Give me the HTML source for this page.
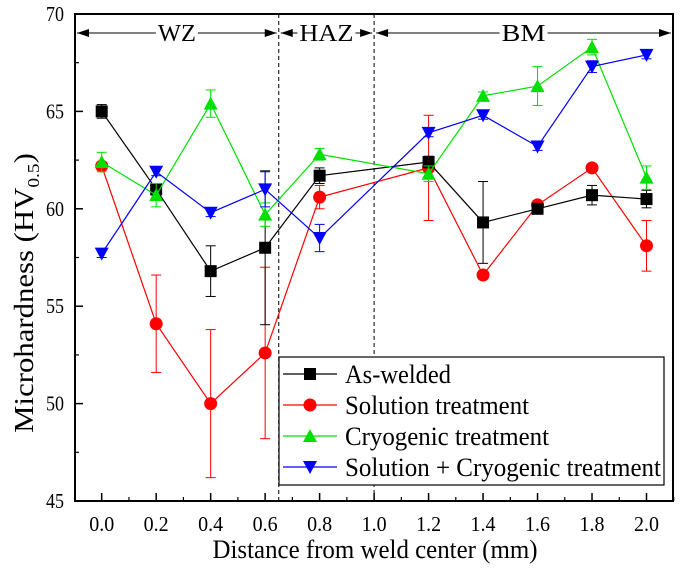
<!DOCTYPE html>
<html><head><meta charset="utf-8"><style>
body{margin:0;background:#fff}
svg{display:block;font-family:"Liberation Serif",serif}
</style></head><body>
<svg id="c" width="681" height="569"></svg>
<script>
const xs=[0,0.2,0.4,0.6,0.8,1.2,1.4,1.6,1.8,2.0];
const asWelded=[65.0,61.0,56.8,58.0,61.7,62.4,59.3,60.0,60.7,60.5];
const asWeldedErr=[0.35,0.3,1.3,3.95,0.4,0.3,2.1,0.2,0.5,0.45];
const solution=[62.2,54.1,50.0,52.6,60.6,62.1,56.6,60.2,62.1,58.1];
const solutionErr=[0.2,2.5,3.8,4.4,0.6,2.7,0.2,0.2,0.2,1.3];
const cryo=[62.4,60.7,65.4,59.7,62.8,61.8,65.8,66.3,68.3,61.6];
const cryoErr=[0.5,0.6,0.7,0.6,0.3,0.4,0.2,1.0,0.4,0.6];
const solCryo=[57.7,61.9,59.8,61.0,58.5,63.9,64.8,63.2,67.3,67.9];
const solCryoErr=[0.2,0.2,0.2,0.9,0.7,0.2,0.2,0.2,0.3,0.2];
const xTicks=["0.0","0.2","0.4","0.6","0.8","1.0","1.2","1.4","1.6","1.8","2.0"];
const yTicks=[45,50,55,60,65,70];

const NS="http://www.w3.org/2000/svg";
const svg=document.getElementById('c');
const L=75,R=673,T=14,B=501;
const X=v=>101.7+v*272.4;
const Y=v=>B-(v-45)*(B-T)/25;
function el(t,a,p){const e=document.createElementNS(NS,t);for(const k in a)e.setAttribute(k,a[k]);(p||svg).appendChild(e);return e;}
function txt(a,s,len,p){const e=el('text',Object.assign({lengthAdjust:'spacingAndGlyphs',textLength:len},a),p);e.textContent=s;return e;}

const fr=el('rect',{x:L,y:T,width:R-L,height:B-T,fill:'none',stroke:'#000','stroke-width':2});


xTicks.forEach(t=>{const v=parseFloat(t);const x=X(v);
 el('line',{x1:x,x2:x,y1:B,y2:B-8,stroke:'#000','stroke-width':1.5});
 const tx=txt({x:x,y:B+30,'text-anchor':'middle','font-size':21},t,25);
 
 
});
for(let i=0;i<11;i++){const x=X(i*0.2-0.1);if(x>L)el('line',{x1:x,x2:x,y1:B,y2:B-4,stroke:'#000','stroke-width':1.2});}
el('line',{x1:X(2.1),x2:X(2.1),y1:B,y2:B-4,stroke:'#000','stroke-width':1.2});
yTicks.forEach(v=>{const y=Y(v);
 el('line',{x1:L,x2:L+8,y1:y,y2:y,stroke:'#000','stroke-width':1.5});
 const tx=txt({x:L-11,y:y+7,'text-anchor':'end','font-size':21},String(v),18);
 
 
 if(v<70)el('line',{x1:L,x2:L+4,y1:Y(v+2.5),y2:Y(v+2.5),stroke:'#000','stroke-width':1.2});
});
const xt=txt({x:375,y:558,'text-anchor':'middle','font-size':26},'Distance from weld center (mm)',325);


const yt=el('text',{transform:'translate(33,293) rotate(-90) scale(1.14,1)','text-anchor':'middle','font-size':27});
yt.innerHTML='Microhardness (HV<tspan font-size="17" dy="6">0.5</tspan><tspan dy="-6">)</tspan>';


[0.65,1.0].forEach(v=>{const d=el('line',{x1:X(v),x2:X(v),y1:T,y2:B,stroke:'#000','stroke-width':1,'stroke-dasharray':'4,3'});
 
 });
function zone(x1,x2,lab,w,name){const g=el('g',{});
 
 
 const y=33,m=(x1+x2)/2,hw=w/2+2;
 el('line',{x1:x1+2,x2:m-hw,y1:y,y2:y,stroke:'#000','stroke-width':1},g);
 el('line',{x1:m+hw,x2:x2-2,y1:y,y2:y,stroke:'#000','stroke-width':1},g);
 el('polygon',{points:`${x1+2},${y} ${x1+14},${y-4} ${x1+14},${y+4}`,fill:'#000'},g);
 el('polygon',{points:`${x2-2},${y} ${x2-14},${y-4} ${x2-14},${y+4}`,fill:'#000'},g);
 txt({x:m,y:y+8,'text-anchor':'middle','font-size':24},lab,w,g);}
zone(L,X(0.65),'WZ',38,'wz-label');zone(X(0.65),X(1.0),'HAZ',54,'haz-label');zone(X(1.0),R,'BM',44,'bm-label');

function marker(g,type,x,y,c){
 if(type==='sq')el('rect',{x:x-6,y:y-6,width:12,height:12,fill:c},g);
 else if(type==='ci')el('circle',{cx:x,cy:y,r:6.5,fill:c},g);
 else if(type==='up')el('polygon',{points:`${x},${y-7} ${x-7},${y+6} ${x+7},${y+6}`,fill:c},g);
 else el('polygon',{points:`${x},${y+7} ${x-7},${y-6} ${x+7},${y-6}`,fill:c},g);}
function series(vals,errs,c,type,name){const g=el('g',{});
 
 
 el('polyline',{points:xs.map((v,i)=>X(v)+','+Y(vals[i])).join(' '),fill:'none',stroke:c,'stroke-width':1.2},g);
 xs.forEach((v,i)=>{const x=X(v),y1=Y(vals[i]+errs[i]),y2=Y(vals[i]-errs[i]);
  el('line',{x1:x,x2:x,y1:y1,y2:y2,stroke:c,'stroke-width':1},g);
  el('line',{x1:x-5,x2:x+5,y1:y1,y2:y1,stroke:c,'stroke-width':1},g);
  el('line',{x1:x-5,x2:x+5,y1:y2,y2:y2,stroke:c,'stroke-width':1},g);});
 xs.forEach((v,i)=>{const m=el('g',{},g);
  
  
  marker(m,type,X(v),Y(vals[i]),c);});}
series(solution,solutionErr,'#ff0000','ci','series-solution');
series(asWelded,asWeldedErr,'#000000','sq','series-as-welded');
series(cryo,cryoErr,'#00e000','up','series-cryogenic');
series(solCryo,solCryoErr,'#0000ff','dn','series-solution-cryogenic');

const lg=el('g',{});


el('rect',{x:279,y:357,width:385,height:128,fill:'#fff',stroke:'#000','stroke-width':1.2},lg);
[['As-welded','#000','sq',106],['Solution treatment','#ff0000','ci',184],['Cryogenic treatment','#00e000','up',204],['Solution + Cryogenic treatment','#0000ff','dn',316]].forEach((e,i)=>{
 const y=374+i*31;const g=el('g',{},lg);
 
 
 el('line',{x1:283,x2:337,y1:y,y2:y,stroke:e[1],'stroke-width':1.2},g);
 marker(g,e[2],310,y,e[1]);
 txt({x:345,y:y+9,'font-size':26},e[0],e[3],g);});
</script>
</body></html>
